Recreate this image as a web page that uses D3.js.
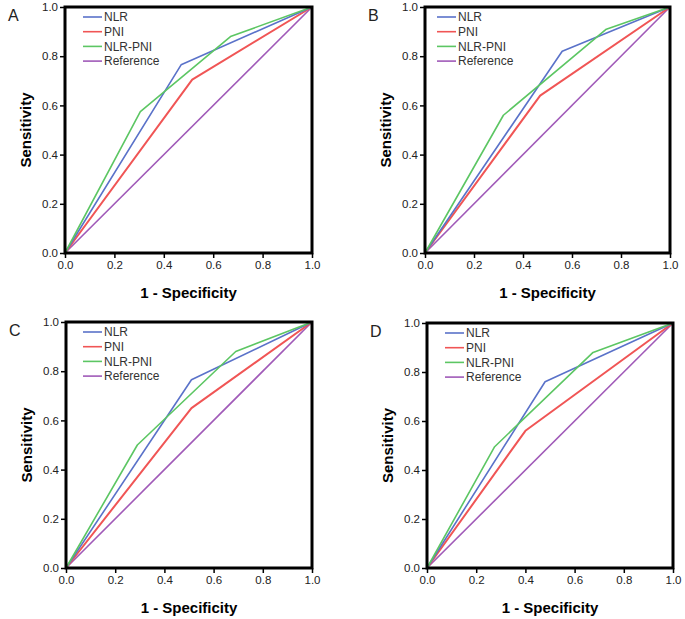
<!DOCTYPE html>
<html><head><meta charset="utf-8">
<script src="https://cdn.jsdelivr.net/npm/d3@7"></script>
<style>body{margin:0;background:#fff}svg{display:block}text{font-family:"Liberation Sans",Arial,sans-serif}</style>
</head><body><svg id="c" width="685" height="619"></svg>
<script>
const seriesNames = ["NLR", "PNI", "NLR-PNI", "Reference"];
const seriesColors = ["#5a72c9", "#f05555", "#5cc663", "#a05ab8"];
const tickValues = [0, 0.2, 0.4, 0.6, 0.8, 1.0];
const panelLabels = ["A", "B", "C", "D"];
const xTitle = "1 - Specificity";
const yTitle = "Sensitivity";

// ROC points [1-specificity, sensitivity] per panel
const panelA_NLR = [[0,0],[0.47,0.765],[1,1]];
const panelA_PNI = [[0,0],[0.515,0.705],[1,1]];
const panelA_NLRPNI = [[0,0],[0.305,0.575],[0.67,0.88],[1,1]];
const panelB_NLR = [[0,0],[0.56,0.82],[1,1]];
const panelB_PNI = [[0,0],[0.47,0.64],[1,1]];
const panelB_NLRPNI = [[0,0],[0.32,0.56],[0.74,0.91],[1,1]];
const panelC_NLR = [[0,0],[0.51,0.765],[1,1]];
const panelC_PNI = [[0,0],[0.51,0.65],[1,1]];
const panelC_NLRPNI = [[0,0],[0.29,0.50],[0.69,0.88],[1,1]];
const panelD_NLR = [[0,0],[0.48,0.76],[1,1]];
const panelD_PNI = [[0,0],[0.40,0.56],[1,1]];
const panelD_NLRPNI = [[0,0],[0.275,0.495],[0.675,0.88],[1,1]];
const referenceLine = [[0,0],[1,1]];

const panelData = [
  [panelA_NLR, panelA_PNI, panelA_NLRPNI, referenceLine],
  [panelB_NLR, panelB_PNI, panelB_NLRPNI, referenceLine],
  [panelC_NLR, panelC_PNI, panelC_NLRPNI, referenceLine],
  [panelD_NLR, panelD_PNI, panelD_NLRPNI, referenceLine]
];
// layout: plot rect and legend offset
const layout = [
  {x:65, y:7, w:247, h:246, lx:18},
  {x:425, y:7, w:245, h:246, lx:12},
  {x:66, y:322, w:246, h:246, lx:17},
  {x:427, y:323, w:246, h:245, lx:18}
];

const svg = d3.select("#c");
panelData.forEach((series, i) => {
  const L = layout[i];
  const g = svg.append("g").attr("transform", `translate(${L.x},${L.y})`);
  const x = d3.scaleLinear().domain([0,1]).range([0, L.w]);
  const y = d3.scaleLinear().domain([0,1]).range([L.h, 0]);
  const fmt = d3.format(".1f");
  const xa = g.append("g").attr("transform", `translate(0,${L.h})`)
    .call(d3.axisBottom(x).tickValues(tickValues).tickFormat(fmt).tickSize(5).tickPadding(3));
  const ya = g.append("g")
    .call(d3.axisLeft(y).tickValues(tickValues).tickFormat(fmt).tickSize(5).tickPadding(2));
  [xa, ya].forEach(a => {
    a.select(".domain").remove();
    a.selectAll("line").attr("stroke", "#000").attr("stroke-width", 1.5);
    a.selectAll("text").attr("font-size", 11.5).attr("fill", "#222")
      .style("font-family", '"Liberation Sans",Arial,sans-serif');
  });
  const line = d3.line().x(d => x(d[0])).y(d => y(d[1]));
  // draw reference first then others
  [3, 1, 0, 2].forEach(k => {
    g.append("path").datum(series[k]).attr("d", line)
      .attr("fill", "none").attr("stroke", seriesColors[k])
      .attr("stroke-width", k === 1 ? 2 : 1.6).attr("stroke-linejoin", "round");
  });
  g.append("rect").attr("x", 0).attr("y", 0).attr("width", L.w).attr("height", L.h)
    .attr("fill", "none").attr("stroke", "#000").attr("stroke-width", 3);
  // legend
  const lg = g.append("g").attr("transform", `translate(${L.lx},0)`);
  seriesNames.forEach((n, k) => {
    const yy = 10 + k * 14.7;
    lg.append("line").attr("x1", 0).attr("x2", 19).attr("y1", yy).attr("y2", yy)
      .attr("stroke", seriesColors[k]).attr("stroke-width", 1.6);
    lg.append("text").attr("x", 21).attr("y", yy + 4.2).attr("font-size", 12).attr("fill", "#333").text(n);
  });
  // axis titles
  g.append("text").attr("x", L.w/2).attr("y", L.h + 45).attr("text-anchor", "middle")
    .attr("font-size", 15).attr("font-weight", "bold").text(xTitle);
  g.append("text").attr("transform", `translate(-34,${L.h/2}) rotate(-90)`)
    .attr("text-anchor", "middle").attr("font-size", 15).attr("font-weight", "bold").text(yTitle);
  // panel letter
  g.append("text").attr("x", -57).attr("y", 14).attr("font-size", 16).attr("fill", "#222").text(panelLabels[i]);
});
</script></body></html>
